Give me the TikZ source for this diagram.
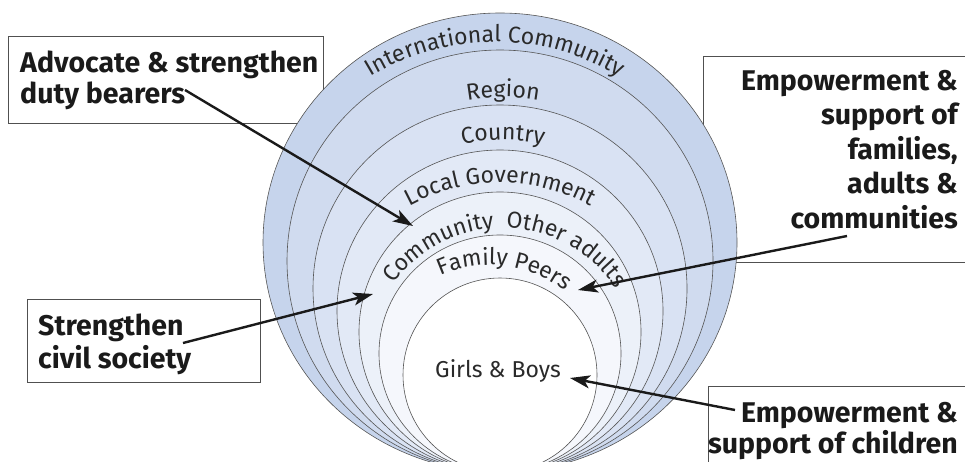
\documentclass[tikz,border=0pt]{standalone}
\usepackage{fontspec}
\setmainfont{Fira Sans}
\usetikzlibrary{arrows.meta,decorations.text}
\definecolor{ringA}{HTML}{C6D4EC}
\definecolor{ringB}{HTML}{D0DBEF}
\definecolor{ringC}{HTML}{D9E2F3}
\definecolor{ringD}{HTML}{E2E9F6}
\definecolor{ringE}{HTML}{ECF1F9}
\definecolor{ringF}{HTML}{F5F7FC}
\definecolor{ringline}{HTML}{555555}
\definecolor{boxline}{HTML}{505050}
\definecolor{txtdark}{HTML}{1A1A1A}
\definecolor{txtring}{HTML}{2A2A2A}
\definecolor{arrowc}{HTML}{1A1A1A}
\newcommand\ringfnt{\fontsize{23}{25}\selectfont\color{txtring}}
\tikzset{
  ring/.style={draw=ringline, line width=0.6pt},
  boxst/.style={draw=boxline, line width=1pt, rectangle, inner sep=0pt},
  boxtxt/.style={font=\fontsize{28.5}{31}\selectfont\bfseries, text=txtdark, inner sep=0pt},
  ringtxt/.style={font=\ringfnt, text=txtring, inner sep=0pt},
  arr/.style={line width=2.4pt, draw=arrowc, -{Stealth[length=20pt,width=13pt,inset=5pt]}},
  curvelbl/.style={decorate, decoration={text along path, text align=center, text={|\ringfnt|#1}}}
}
\begin{document}
\begin{tikzpicture}[x=1pt,y=1pt]
\useasboundingbox (0,0) rectangle (965,-461);
\clip (0,0) rectangle (965,-461);
% boxes (behind the circles)
\node[boxst, anchor=north west, minimum width=315pt, minimum height=87pt] (box1) at (8,-36) {};
\node[boxst, anchor=north west, minimum width=300pt, minimum height=206pt] (box2) at (703,-56) {};
\node[boxst, anchor=north west, minimum width=233pt, minimum height=83pt] (box3) at (27,-299) {};
\node[boxst, anchor=north west, minimum width=300pt, minimum height=120pt] (box4) at (708,-386) {};
% nested circles
\path[ring, fill=ringA] (500,-242.5) ellipse [x radius=237pt, y radius=229.5pt];
\path[ring, fill=ringB] (500,-261) ellipse [x radius=213pt, y radius=211pt];
\path[ring, fill=ringC] (500,-288.5) ellipse [x radius=187pt, y radius=183.5pt];
\path[ring, fill=ringD] (500,-311) ellipse [x radius=163pt, y radius=161pt];
\path[ring, fill=ringE] (500,-332) ellipse [x radius=141pt, y radius=140pt];
\path[ring, fill=ringF] (500,-353.5) ellipse [x radius=121pt, y radius=118.5pt];
\path[ring, fill=white] (500,-375) ellipse [x radius=97pt, y radius=97pt];
% curved ring labels
\path[curvelbl={International Community}] (495,-282) ++(150:240pt) arc[start angle=150, end angle=30, radius=240pt];
\path[curvelbl={Region}] (503,-297) ++(120:200pt) arc[start angle=120, end angle=60, radius=200pt];
\path[curvelbl={Country}] (503,-330) ++(120:190pt) arc[start angle=120, end angle=60, radius=190pt];
\path[curvelbl={Local Government}] (500,-373) ++(150:190pt) arc[start angle=150, end angle=30, radius=190pt];
\path[curvelbl={Community}] (503,-363) ++(169:135pt) arc[start angle=169, end angle=69, radius=135pt];
\path[curvelbl={Other adults}] (503,-363) ++(111:135pt) arc[start angle=111, end angle=11, radius=135pt];
\path[curvelbl={Family Peers}] (490,-385) ++(162.8:120pt) arc[start angle=162.8, end angle=2.8, radius=120pt];
\node[ringtxt, anchor=base] (gb) at (498,-377) {Girls \& Boys};
% box texts
\node[boxtxt, anchor=base west] (t1a) at (20,-72) {Advocate \& strengthen};
\node[boxtxt, anchor=base west] (t1b) at (20,-103.5) {duty bearers};
\node[boxtxt, anchor=base east] (t2a) at (958,-90) {Empowerment \&};
\node[boxtxt, anchor=base east] (t2b) at (958,-124.5) {support of};
\node[boxtxt, anchor=base east] (t2c) at (958,-159) {families,};
\node[boxtxt, anchor=base east] (t2d) at (958,-193.5) {adults \&};
\node[boxtxt, anchor=base east] (t2e) at (958,-228) {communities};
\node[boxtxt, anchor=base west] (t3a) at (38,-335) {Strengthen};
\node[boxtxt, anchor=base west] (t3b) at (38,-368) {civil society};
\node[boxtxt, anchor=base east] (t4a) at (958,-422) {Empowerment \&};
\node[boxtxt, anchor=base east] (t4b) at (958,-453) {support of children};
% arrows
\coordinate (a1s) at (185,-90);  \coordinate (a1e) at (413,-226);
\coordinate (a2s) at (847,-236); \coordinate (a2e) at (578,-290);
\coordinate (a3s) at (183,-343); \coordinate (a3e) at (373,-294);
\coordinate (a4s) at (735,-410); \coordinate (a4e) at (570,-378);
\draw[arr] (a1s) -- (a1e);
\draw[arr] (a2s) -- (a2e);
\draw[arr] (a3s) -- (a3e);
\draw[arr] (a4s) -- (a4e);
\end{tikzpicture}
\end{document}
